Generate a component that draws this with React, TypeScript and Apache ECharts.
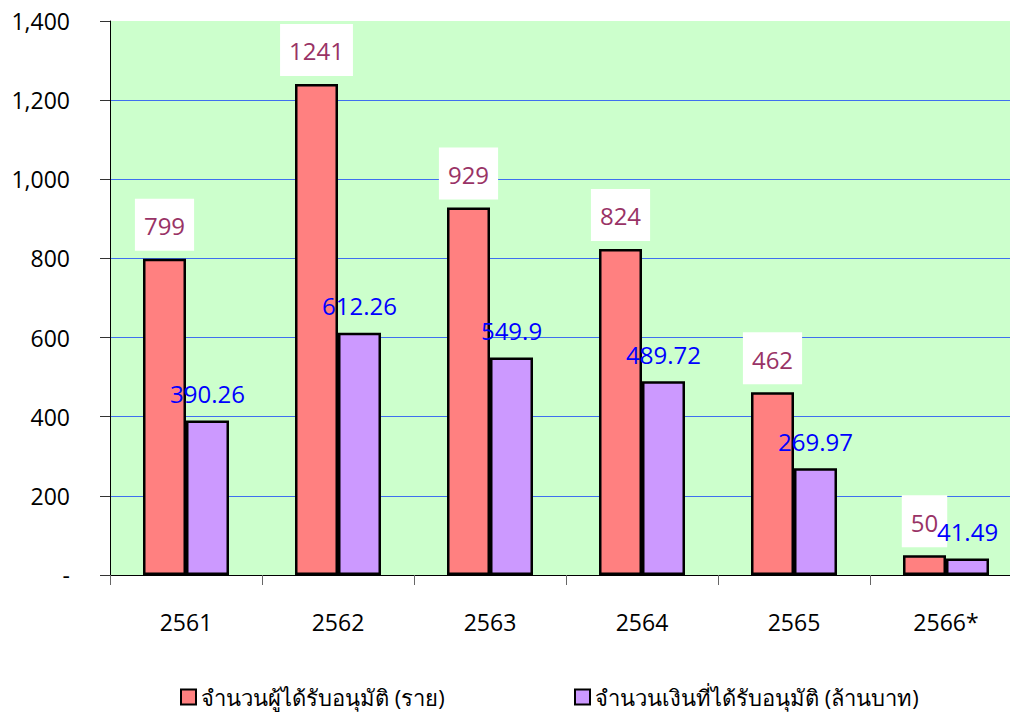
import React, { useEffect, useRef } from "react";
import * as echarts from "echarts";

const categories = ["2561", "2562", "2563", "2564", "2565", "2566*"];
const approvedCount = [799, 1241, 929, 824, 462, 50];
const approvedAmount = [390.26, 612.26, 549.9, 489.72, 269.97, 41.49];
const seriesNames = ["จำนวนผู้ได้รับอนุมัติ (ราย)", "จำนวนเงินที่ได้รับอนุมัติ (ล้านบาท)"];

const FONT = "'Open Sans', 'DejaVu Sans', sans-serif";

export default function App() {
  const ref = useRef<HTMLDivElement>(null);
  useEffect(() => {
    if (!ref.current) return;
    const chart = echarts.init(ref.current, undefined, { renderer: "svg" });
    const legendText = { fontSize: 22, color: "#000", fontFamily: FONT };
    chart.setOption({
      animation: false,
      backgroundColor: "#ffffff",
      textStyle: { fontFamily: FONT },
      grid: {
        left: 110,
        top: 21,
        width: 912,
        height: 554,
        show: true,
        backgroundColor: "#CCFFCC",
        borderWidth: 0,
      },
      legend: [
        {
          top: 681,
          left: 175,
          itemWidth: 15,
          itemHeight: 15,
          textStyle: legendText,
          data: [
            { name: seriesNames[0], icon: "rect", itemStyle: { color: "#FF8080", borderColor: "#000", borderWidth: 2 } },
          ],
        },
        {
          top: 681,
          left: 569,
          itemWidth: 15,
          itemHeight: 15,
          textStyle: legendText,
          data: [
            { name: seriesNames[1], icon: "rect", itemStyle: { color: "#CC99FF", borderColor: "#000", borderWidth: 2 } },
          ],
        },
      ],
      xAxis: {
        type: "category",
        data: categories,
        axisLine: { show: true, lineStyle: { color: "#000", width: 1 } },
        axisTick: { show: true, length: 10, lineStyle: { color: "#666" } },
        axisLabel: { fontSize: 23, color: "#000", margin: 35, fontFamily: FONT },
      },
      yAxis: {
        type: "value",
        min: 0,
        max: 1400,
        interval: 200,
        axisLine: { show: true, lineStyle: { color: "#000", width: 1 } },
        axisTick: { show: true, length: 10, lineStyle: { color: "#333" } },
        axisLabel: {
          fontSize: 23,
          color: "#000",
          margin: 40,
          fontFamily: FONT,
          formatter: (v: number) => (v === 0 ? "-" : v.toLocaleString("en-US")),
        },
        splitLine: { show: true, showMaxLine: false, lineStyle: { color: "#3F6FEF", width: 1 } },
      },
      series: [
        {
          name: seriesNames[0],
          type: "bar",
          data: approvedCount,
          barWidth: 43,
          barGap: "0%",
          itemStyle: { color: "#FF8080", borderColor: "#000", borderWidth: 2.5 },
          label: {
            show: true,
            position: "top",
            distance: 8,
            fontSize: 24,
            lineHeight: 24,
            color: "#993366",
            backgroundColor: "#ffffff",
            padding: [15, 9, 13, 9],
            fontFamily: FONT,
          },
          z: 2,
        },
        {
          name: seriesNames[1],
          type: "bar",
          data: approvedAmount,
          barWidth: 43,
          barGap: "0%",
          itemStyle: { color: "#CC99FF", borderColor: "#000", borderWidth: 2.5 },
          label: {
            show: true,
            position: "top",
            distance: 15,
            fontSize: 24,
            lineHeight: 24,
            color: "#0000FF",
            fontFamily: FONT,
          },
          z: 3,
        },
      ],
    });
    return () => chart.dispose();
  }, []);
  return (
    <div style={{ position: "absolute", left: 0, top: 0, width: 1010, height: 713, overflow: "hidden" }}>
      <div ref={ref} style={{ width: 1022, height: 713 }} />
    </div>
  );
}
